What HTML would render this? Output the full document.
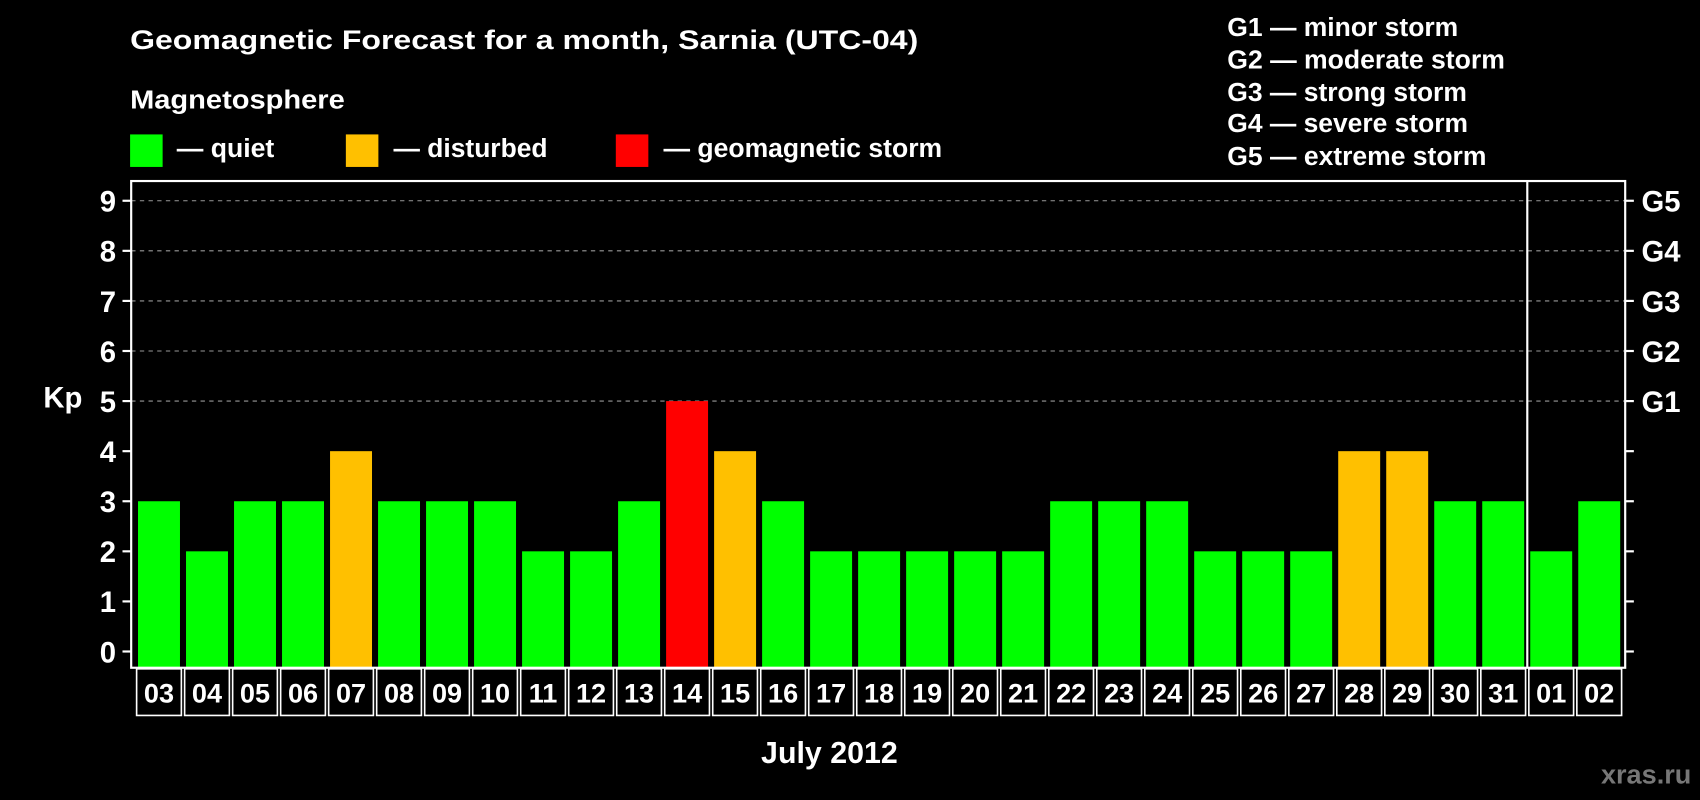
<!DOCTYPE html>
<html><head><meta charset="utf-8"><style>
html,body{margin:0;padding:0;background:#000;}
svg{display:block;font-family:"Liberation Sans",Arial,sans-serif;font-weight:bold;}
</style></head><body>
<svg id="chart" width="1700" height="800" viewBox="0 0 1568 738" preserveAspectRatio="none" xmlns="http://www.w3.org/2000/svg">
<rect x="0" y="0" width="1568" height="738" fill="#000"/>
<text x="120" y="45" fill="#fff" font-size="25" textLength="727" lengthAdjust="spacingAndGlyphs">Geomagnetic Forecast for a month, Sarnia (UTC-04)</text>
<text x="120" y="100" fill="#fff" font-size="24" textLength="198" lengthAdjust="spacingAndGlyphs">Magnetosphere</text>
<rect x="120" y="124" width="30" height="30" fill="#00ff00"/>
<text x="163" y="145" fill="#fff" font-size="24" textLength="90" lengthAdjust="spacingAndGlyphs">— quiet</text>
<rect x="319" y="124" width="30" height="30" fill="#ffc000"/>
<text x="363" y="145" fill="#fff" font-size="24" textLength="142" lengthAdjust="spacingAndGlyphs">— disturbed</text>
<rect x="568" y="124" width="30" height="30" fill="#ff0000"/>
<text x="612" y="145" fill="#fff" font-size="24" textLength="257" lengthAdjust="spacingAndGlyphs">— geomagnetic storm</text>
<g fill="#fff" font-size="24">
<text x="1132" y="33" textLength="213" lengthAdjust="spacingAndGlyphs">G1 — minor storm</text>
<text x="1132" y="63" textLength="256" lengthAdjust="spacingAndGlyphs">G2 — moderate storm</text>
<text x="1132" y="93" textLength="221" lengthAdjust="spacingAndGlyphs">G3 — strong storm</text>
<text x="1132" y="122" textLength="222" lengthAdjust="spacingAndGlyphs">G4 — severe storm</text>
<text x="1132" y="152" textLength="239" lengthAdjust="spacingAndGlyphs">G5 — extreme storm</text>
</g>
<text x="40" y="376" fill="#fff" font-size="27">Kp</text>
<text x="765" y="704" fill="#fff" font-size="28" text-anchor="middle">July 2012</text>
<text x="1560" y="723" fill="#777" font-size="25" text-anchor="end">xras.ru</text>
<g id="grid"></g>
<g id="bars"></g>
<g id="xlabels"></g>
<g id="axes"></g>
</svg>
<script>
const days = ["03","04","05","06","07","08","09","10","11","12","13","14","15","16","17","18","19","20","21","22","23","24","25","26","27","28","29","30","31","01","02"];
const kp = [3,2,3,3,4,3,3,3,2,2,3,5,4,3,2,2,2,2,2,3,3,3,2,2,2,4,4,3,3,2,3];
const yTicks = [0,1,2,3,4,5,6,7,8,9];
const gLabels = ["G1","G2","G3","G4","G5"];
const gLevels = [5,6,7,8,9];
const NS="http://www.w3.org/2000/svg";
const L=121,R=1499,T=167,B=616;
const y0=601, unit=46.2;
const bx0=127.3, step=44.28, bw=38.7;
function y(v){return y0-v*unit;}
function x(i){return bx0+i*step;}
function mk(t,a,p){const e=document.createElementNS(NS,t);for(const k in a)e.setAttribute(k,a[k]);p.appendChild(e);return e;}
const grid=document.getElementById('grid'),bars=document.getElementById('bars'),xl=document.getElementById('xlabels'),ax=document.getElementById('axes');
gLevels.forEach((v,i)=>{
  const ln=mk('line',{x1:L,x2:R,y1:y(v),y2:y(v),stroke:'#999','stroke-dasharray':'4,4','stroke-width':1},grid);
  
  
  const t=mk('text',{x:1514,y:y(v)+10,fill:'#fff','font-size':27},ax);t.textContent=gLabels[i];
  
  
});
yTicks.forEach(v=>{
  mk('line',{x1:113,x2:L,y1:y(v),y2:y(v),stroke:'#fff','stroke-width':2},ax);
  mk('line',{x1:R,x2:R+8,y1:y(v),y2:y(v),stroke:'#fff','stroke-width':2},ax);
  const t=mk('text',{x:107,y:y(v)+10,fill:'#fff','font-size':27,'text-anchor':'end'},ax);t.textContent=v;
  
  
});
kp.forEach((v,i)=>{
  const c=v>=5?'#ff0000':(v>=4?'#ffc000':'#00ff00');
  const r=mk('rect',{x:x(i),y:y(v),width:bw,height:B-y(v),fill:c},bars);
  
  
  const cx=x(i)+bw/2;
  const b=mk('rect',{x:cx-step/2+1.5,y:B+1,width:step-3,height:43,fill:'none',stroke:'#fff','stroke-width':1.5},xl);
  
  
  const t=mk('text',{x:cx,y:B+32,fill:'#fff','font-size':25,'text-anchor':'middle'},xl);t.textContent=days[i];
  
  
});
const f=mk('rect',{x:L,y:T,width:R-L,height:B-T,fill:'none',stroke:'#fff','stroke-width':2},ax);


const d=mk('line',{x1:1408.7,x2:1408.7,y1:T,y2:B,stroke:'#fff','stroke-width':2},ax);


</script>
</body></html>
